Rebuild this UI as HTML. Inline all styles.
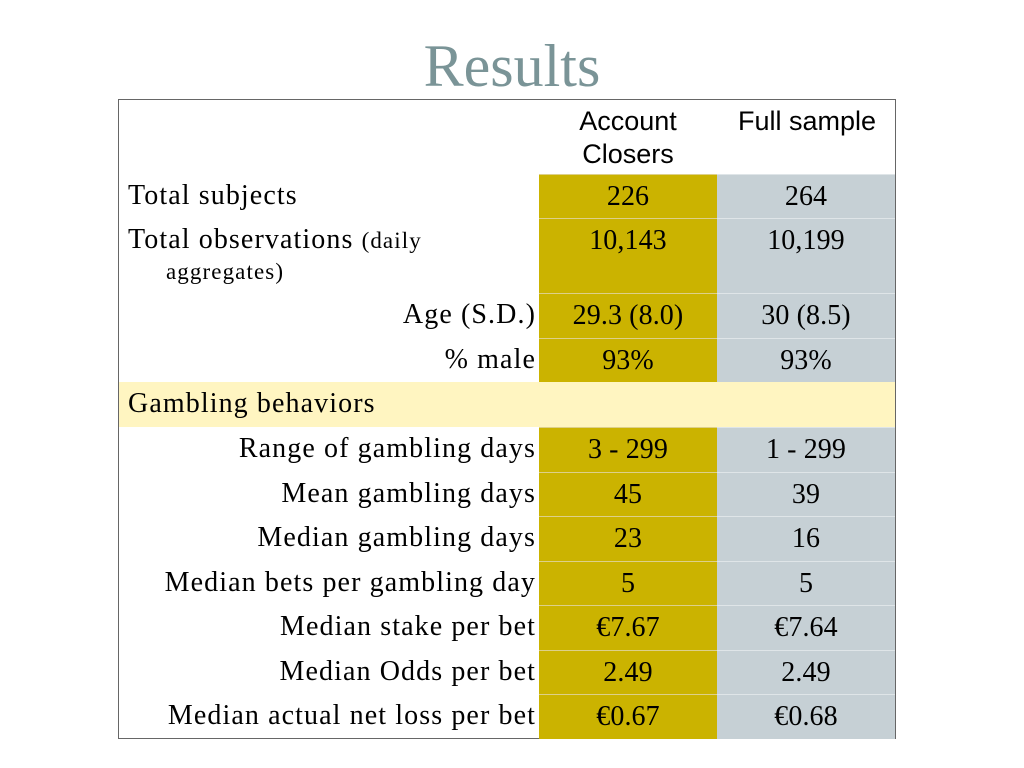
<!DOCTYPE html>
<html><head><style>
body{margin:0;width:1024px;height:768px;background:#fff;position:relative;overflow:hidden}
.t{position:absolute;top:30px;left:0;width:1024px;text-align:center;font:60px "Liberation Serif",serif;color:#7a9497;line-height:72px}
.box{position:absolute;left:118px;top:99px;width:778px;height:640px;border:1px solid #666;box-sizing:border-box}
.c{position:absolute;box-sizing:border-box;font:28px "Liberation Serif",serif;color:#000;line-height:30px;letter-spacing:0.1px;white-space:nowrap}
.lab{letter-spacing:1.1px}
.g{background:#cbb300;border-top:1px solid #ddd08a}
.s{background:#c6d0d5;border-top:1px solid #dfe5e8}
.h{font-family:"Liberation Sans",sans-serif;text-align:center;font-size:27px;line-height:33px;letter-spacing:0}
</style></head><body>
<div class="t">Results</div>
<div class="box"></div>
<div class="c h" style="left:539px;top:105px;width:178px">Account<br>Closers</div>
<div class="c h" style="left:717px;top:105px;width:180px">Full sample</div>
<div id="rows"></div>
<script>
const rows=[
[174,218,"Total subjects","226","264","l"],
[218,293,"Total observations <span style='font-size:23px'>(daily</span><br><span style='font-size:23px;padding-left:38px'>aggregates)</span>","10,143","10,199","l"],
[293,338,"Age (S.D.)","29.3 (8.0)","30 (8.5)","r"],
[338,382,"% male","93%","93%","r"],
[427,472,"Range of gambling days","3 - 299","1 - 299","r"],
[472,516,"Mean gambling days","45","39","r"],
[516,561,"Median gambling days","23","16","r"],
[561,605,"Median bets per gambling day","5","5","r"],
[605,650,"Median stake per bet","€7.67","€7.64","r"],
[650,694,"Median Odds per bet","2.49","2.49","r"],
[694,739,"Median actual net loss per bet","€0.67","€0.68","r"]];
let h='<div class="c lab" style="left:119px;top:382px;width:776px;height:45px;background:#fff5c1;padding:7px 9px">Gambling behaviors</div>';
for(const r of rows){const [a,b,l,x,y,al]=r;const H=b-a;
h+=`<div class="c lab" style="left:119px;top:${a}px;width:420px;height:${H}px;padding:7px 3px 0 9px;text-align:${al=='l'?'left':'right'}">${l}</div>`;
h+=`<div class="c g" style="left:539px;top:${a}px;width:178px;height:${H}px;text-align:center;padding-top:7px">${x}</div>`;
h+=`<div class="c s" style="left:717px;top:${a}px;width:178px;height:${H}px;text-align:center;padding-top:7px">${y}</div>`;}
document.getElementById('rows').innerHTML=h;
</script>
</body></html>
